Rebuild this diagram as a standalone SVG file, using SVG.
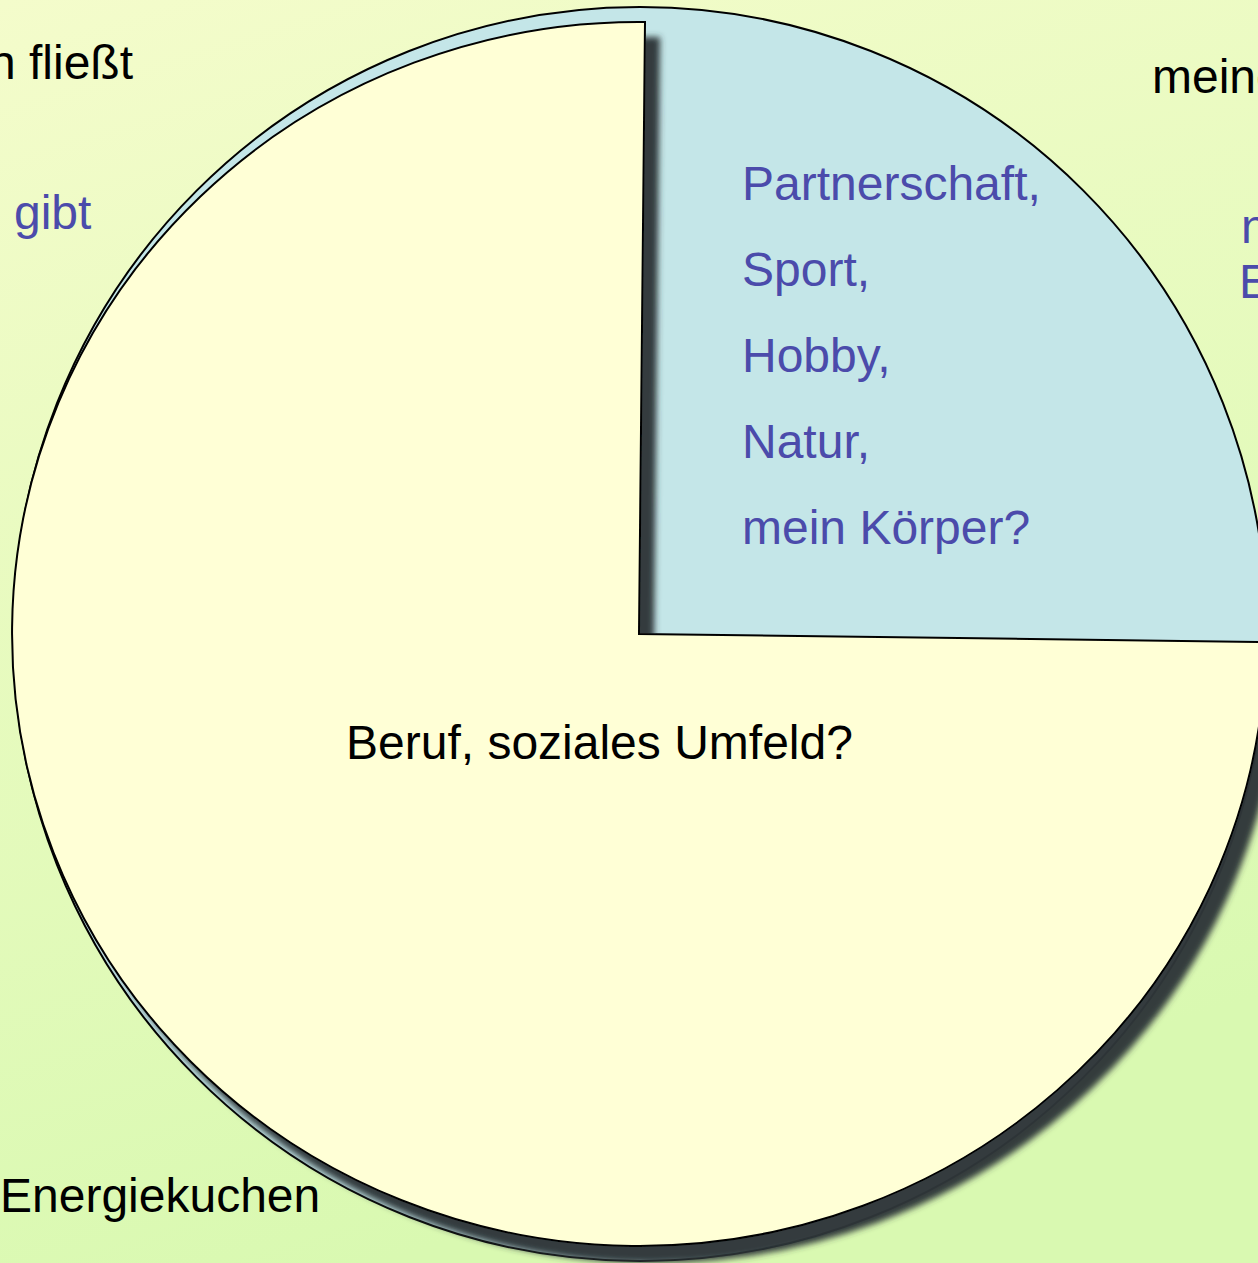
<svg xmlns="http://www.w3.org/2000/svg" width="1258" height="1263" viewBox="0 0 1258 1263">
  <defs>
    <linearGradient id="bg" x1="0" y1="0" x2="0.3" y2="1">
      <stop offset="0" stop-color="#f4fccb"/>
      <stop offset="1" stop-color="#d9f9b1"/>
    </linearGradient>
    <filter id="shadow" x="-10%" y="-10%" width="125%" height="125%">
      <feGaussianBlur in="SourceAlpha" stdDeviation="3"/>
      <feOffset dx="14" dy="16" result="b"/>
      <feFlood flood-color="#2e3639" flood-opacity="0.97"/>
      <feComposite in2="b" operator="in" result="s"/>
      <feMerge>
        <feMergeNode in="s"/>
        <feMergeNode in="SourceGraphic"/>
      </feMerge>
    </filter>
    <style>
      .lbl { font-family: "Liberation Sans", Arial, sans-serif; font-size: 48px; }
      .black { fill: #000000; }
      .blue { fill: #4b4bab; }
      .edge { stroke: #000000; stroke-width: 2; stroke-linejoin: miter; }
    </style>
  </defs>

  <rect x="0" y="0" width="1258" height="1263" fill="url(#bg)"/>

  <g id="blue-slice">
    <circle cx="640" cy="634" r="627" fill="#c4e6e8" class="edge"/>
  </g>

  <g id="yellow-slice" filter="url(#shadow)">
    <path d="M639,634 L645,22 A627,612 0.65 1 0 1266,642 Z" fill="#ffffd6" class="edge"/>
  </g>

  <g id="labels-outside">
    <text class="lbl black" x="133" y="79" text-anchor="end">n fließt</text>
    <text class="lbl blue" x="14" y="229">gibt</text>
    <text class="lbl black" x="1152" y="93">meine</text>
    <text class="lbl blue" x="1241" y="243">n</text>
    <text class="lbl blue" x="1239" y="298">E</text>
    <text class="lbl black" x="0" y="1212">Energiekuchen</text>
  </g>

  <g id="blue-labels">
    <text class="lbl blue" x="742" y="200">Partnerschaft,</text>
    <text class="lbl blue" x="742" y="286">Sport,</text>
    <text class="lbl blue" x="742" y="372">Hobby,</text>
    <text class="lbl blue" x="742" y="458">Natur,</text>
    <text class="lbl blue" x="742" y="544">mein Körper?</text>
  </g>

  <g id="yellow-label">
    <text class="lbl black" x="346" y="759">Beruf, soziales Umfeld?</text>
  </g>
</svg>
